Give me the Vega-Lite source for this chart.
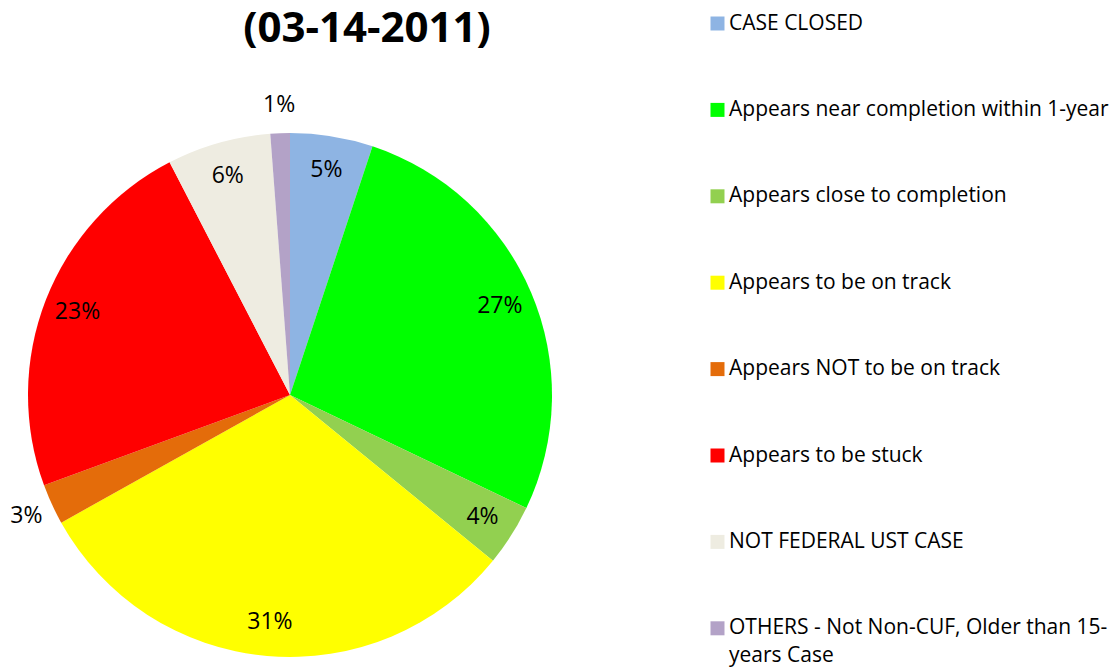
{
  "$schema": "https://vega.github.io/schema/vega-lite/v6.json",
  "autosize": "none",
  "width": 524,
  "height": 524,
  "padding": {"left": 28, "top": 133, "right": 567, "bottom": 10},
  "background": "white",
  "config": {"style": {"guide-label": {"lineHeight": 28}}},
  "title": {
    "text": "(03-14-2011)",
    "font": "Open Sans",
    "fontSize": 42,
    "fontWeight": "bold",
    "color": "#000000",
    "anchor": "middle",
    "dx": 77,
    "offset": -38
  },
  "data": {
    "values": [
      {"status": "CASE CLOSED", "value": 5.1, "label": "5%", "order": 1},
      {"status": "Appears near completion within 1-year", "value": 27.0, "label": "27%", "order": 2},
      {"status": "Appears close to completion", "value": 3.8, "label": "4%", "order": 3},
      {"status": "Appears to be on track", "value": 31.0, "label": "31%", "order": 4},
      {"status": "Appears NOT to be on track", "value": 2.5, "label": "3%", "order": 5},
      {"status": "Appears to be stuck", "value": 23.0, "label": "23%", "order": 6},
      {"status": "NOT FEDERAL UST CASE", "value": 6.4, "label": "6%", "order": 7},
      {"status": "OTHERS - Not Non-CUF, Older than 15-years Case", "value": 1.2, "label": "1%", "order": 8}
    ]
  },
  "encoding": {
    "theta": {"field": "value", "type": "quantitative", "stack": true},
    "order": {"field": "order", "type": "quantitative"},
    "color": {
      "field": "status",
      "type": "nominal",
      "scale": {
        "domain": ["CASE CLOSED", "Appears near completion within 1-year", "Appears close to completion", "Appears to be on track", "Appears NOT to be on track", "Appears to be stuck", "NOT FEDERAL UST CASE", "OTHERS - Not Non-CUF, Older than 15-years Case"],
        "range": ["#8EB4E3", "#00FF00", "#92D050", "#FFFF00", "#E46C0A", "#FF0000", "#EEECE1", "#B3A2C7"]
      },
      "legend": {
        "title": null,
        "orient": "none",
        "legendX": 679,
        "legendY": -120,
        "padding": 0,
        "symbolType": "square",
        "symbolSize": 196,
        "symbolStrokeWidth": 0,
        "labelFont": "Open Sans",
        "labelFontSize": 21,
        "labelColor": "#000000",
        "labelLimit": 500,
        "labelOffset": 1,
        "rowPadding": 64.4,
        "labelExpr": "datum.label == 'OTHERS - Not Non-CUF, Older than 15-years Case' ? ['OTHERS - Not Non-CUF, Older than 15-', 'years Case'] : datum.label",
        "encode": {"labels": {"enter": {"lineHeight": {"value": 28}}, "update": {"lineHeight": {"value": 28}}}}
      }
    }
  },
  "layer": [
    {"mark": {"type": "arc", "outerRadius": 262, "stroke": null}},
    {
      "mark": {"type": "text", "radius": 228, "font": "Open Sans", "fontSize": 23, "color": "#000000"},
      "encoding": {
        "text": {"condition": {"test": "datum.value >= 3", "field": "label"}, "value": ""},
        "color": {"value": "#000000"}
      }
    },
    {
      "mark": {"type": "text", "radius": 290, "font": "Open Sans", "fontSize": 23, "color": "#000000"},
      "encoding": {
        "text": {"condition": {"test": "datum.value < 3", "field": "label"}, "value": ""},
        "color": {"value": "#000000"}
      }
    }
  ]
}
